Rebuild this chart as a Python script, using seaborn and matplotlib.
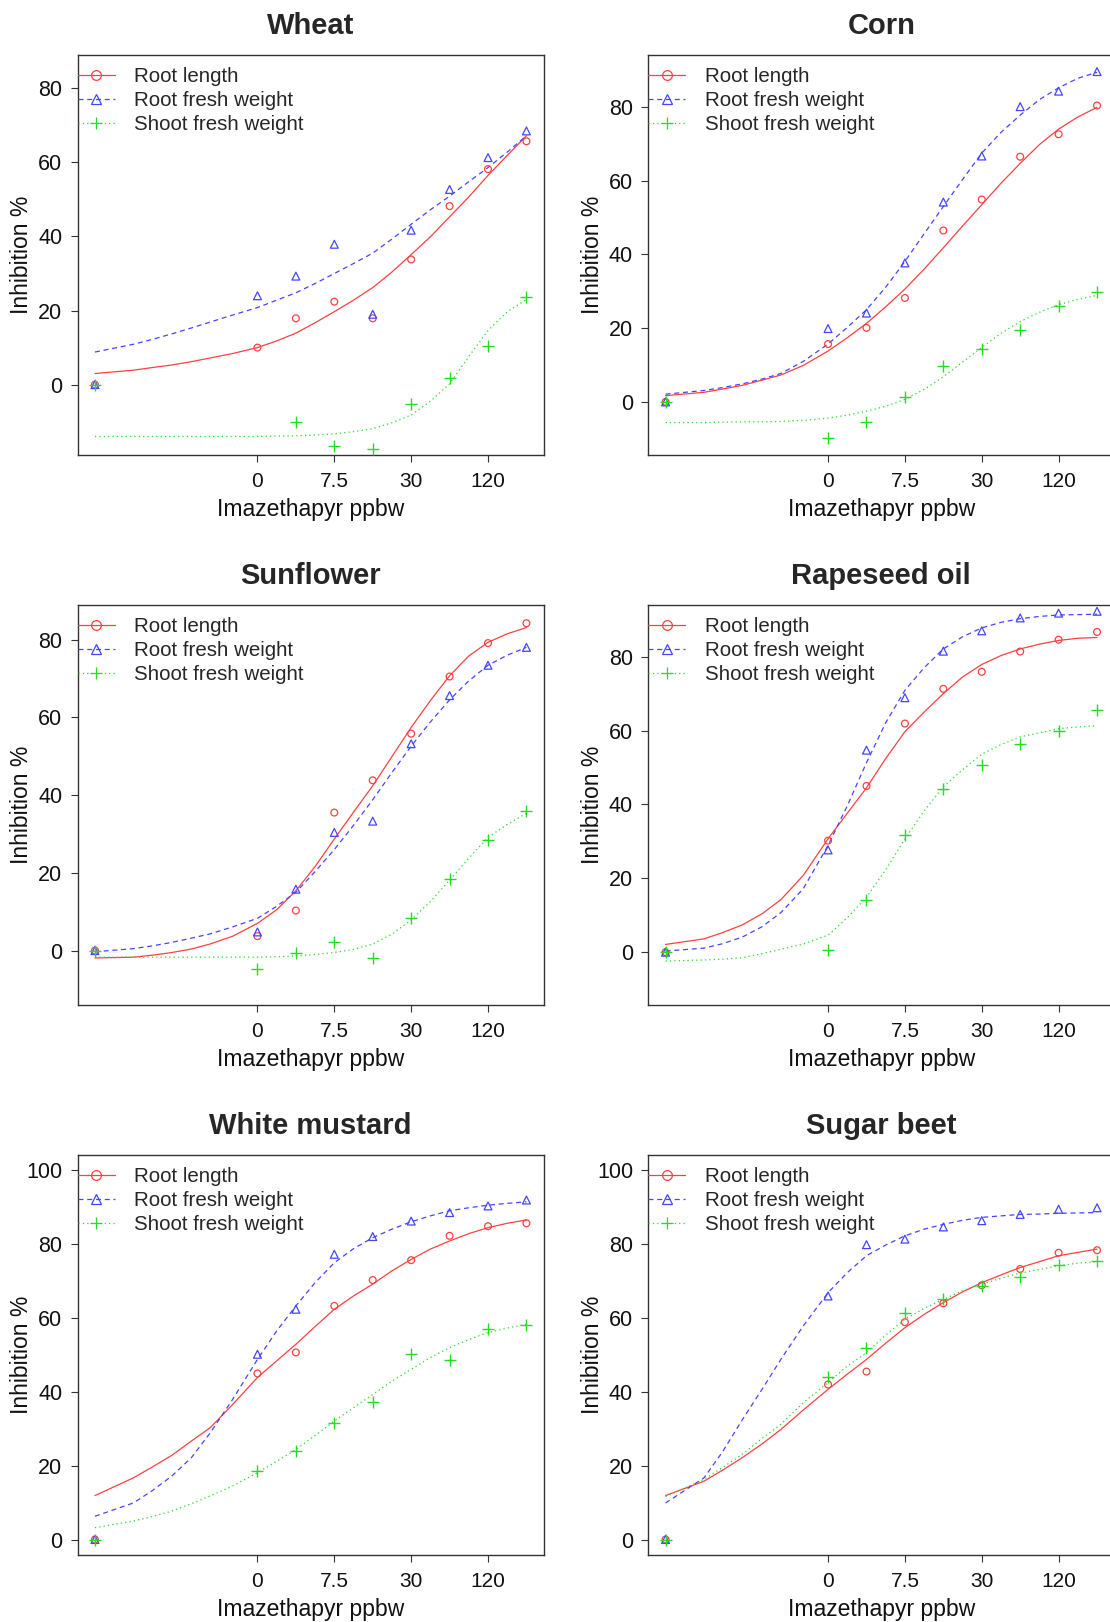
import numpy as np
import pandas as pd
import matplotlib
matplotlib.use("Agg")
import matplotlib.pyplot as plt
from matplotlib.lines import Line2D
import seaborn as sns

# ---------------------------------------------------------
# DATA
# ---------------------------------------------------------
# observed doses (control drawn at 0.1 on the log axis)
DOSES = [0.1, 1.875, 3.75, 7.5, 15, 30, 60, 120, 240]
# doses at which the fitted curves were read
FIT_DOSES = [0.1, 0.2, 0.28, 0.4, 0.57, 0.8, 1.2, 1.875, 2.65, 3.75, 5.3,
             7.5, 10.6, 15, 21.2, 30, 42.4, 60, 84.9, 120, 170, 240]

XTICKS = [1.875, 7.5, 30, 120]
XTICK_LABELS = ["0", "7.5", "30", "120"]
SERIES = ["Root length", "Root fresh weight", "Shoot fresh weight"]
CROPS = ["Wheat", "Corn", "Sunflower", "Rapeseed oil", "White mustard", "Sugar beet"]

# Wheat
WHEAT_RL = [0, 10.0, 17.9, 22.4, 17.9, 33.8, 48.2, 58.2, 65.7]
WHEAT_RFW = [0, 24.0, 29.3, 37.9, 19.0, 41.7, 52.7, 61.3, 68.5]
WHEAT_SFW = [0, np.nan, -10.0, -16.7, -17.5, -5.2, 1.8, 10.4, 23.6]
WHEAT_RL_FIT = [3.0, 3.9, 4.6, 5.3, 6.2, 7.2, 8.4, 10.0, 11.8, 13.9, 16.7,
                19.7, 22.8, 26.2, 30.4, 35.1, 39.9, 45.3, 50.7, 56.5, 61.9, 67.2]
WHEAT_RFW_FIT = [8.8, 10.9, 12.2, 13.7, 15.3, 16.9, 18.8, 20.8, 22.8, 24.8, 27.3,
                 30.0, 32.7, 35.5, 39.3, 43.3, 47.2, 50.9, 54.8, 58.6, 62.8, 67.2]
WHEAT_SFW_FIT = [-14.0, -14.0, -14.0, -14.0, -14.0, -14.0, -14.0, -14.0, -13.9, -13.8, -13.6,
                 -13.3, -12.7, -11.9, -10.3, -8.2, -4.5, 0.2, 7.6, 14.6, 19.7, 23.0]

# Corn
CORN_RL = [0, 15.7, 20.1, 28.2, 46.5, 54.9, 66.5, 72.6, 80.4]
CORN_RFW = [0, 19.9, 24.1, 37.7, 54.2, 66.7, 80.1, 84.3, 89.6]
CORN_SFW = [0, -9.8, -5.4, 1.2, 9.7, 14.3, 19.6, 26.1, 29.9]
CORN_RL_FIT = [1.7, 2.6, 3.5, 4.5, 5.9, 7.3, 9.9, 13.8, 17.4, 21.3, 25.8,
               30.6, 36.0, 41.8, 47.7, 53.5, 59.3, 64.7, 69.8, 74.0, 77.3, 79.9]
CORN_RFW_FIT = [2.1, 3.1, 3.9, 4.9, 6.2, 7.7, 11.0, 15.7, 20.2, 25.0, 31.1,
                38.1, 45.6, 53.0, 60.3, 67.5, 73.1, 77.8, 82.0, 85.2, 87.8, 89.4]
CORN_SFW_FIT = [-5.6, -5.6, -5.5, -5.4, -5.4, -5.3, -5.0, -4.4, -3.6, -2.5, -1.2,
                0.7, 3.4, 6.8, 10.8, 14.8, 18.6, 21.8, 24.3, 26.4, 27.8, 28.9]

# Sunflower
SUNF_RL = [0, 3.7, 10.3, 35.5, 43.8, 55.8, 70.5, 79.1, 84.2]
SUNF_RFW = [0, 4.8, 15.8, 30.4, 33.3, 53.2, 65.6, 73.4, 78.0]
SUNF_SFW = [0, -4.8, -0.6, 2.3, -2.0, 8.5, 18.5, 28.4, 35.8]
SUNF_RL_FIT = [-1.9, -1.7, -1.2, -0.5, 0.4, 1.7, 3.7, 7.0, 10.5, 15.4, 21.6,
               28.7, 35.6, 42.4, 49.9, 57.4, 64.3, 70.7, 75.8, 79.3, 81.5, 83.1]
SUNF_RFW_FIT = [-0.3, 0.5, 1.2, 2.1, 3.2, 4.3, 6.1, 8.3, 11.4, 15.0, 20.3,
                26.0, 32.2, 38.8, 45.8, 52.6, 58.8, 64.5, 69.4, 73.4, 76.0, 78.0]
SUNF_SFW_FIT = [-1.7, -1.7, -1.7, -1.7, -1.7, -1.7, -1.7, -1.7, -1.6, -1.4, -1.0,
                -0.5, 0.3, 1.7, 4.2, 7.9, 12.6, 18.1, 23.8, 29.1, 32.5, 35.3]

# Rapeseed oil
RAPE_RL = [0, 30.2, 45.0, 61.9, 71.3, 75.9, 81.4, 84.6, 86.7]
RAPE_RFW = [0, 27.7, 54.7, 68.9, 81.5, 87.0, 90.5, 91.8, 92.3]
RAPE_SFW = [0, 0.7, 14.2, 31.7, 44.3, 50.7, 56.5, 60.0, 65.5]
RAPE_RL_FIT = [2.1, 3.6, 5.3, 7.4, 10.4, 14.2, 20.8, 30.7, 37.6, 44.5, 52.4,
               59.7, 65.0, 70.0, 74.5, 77.9, 80.3, 82.1, 83.4, 84.4, 85.0, 85.2]
RAPE_RFW_FIT = [0.3, 1.1, 2.3, 4.1, 6.9, 10.7, 17.2, 28.9, 39.6, 51.3, 62.1,
                70.9, 77.0, 82.1, 85.4, 87.8, 89.3, 90.3, 90.9, 91.3, 91.4, 91.5]
RAPE_SFW_FIT = [-2.4, -2.1, -1.9, -1.5, -0.4, 0.8, 2.2, 4.6, 9.3, 14.9, 22.3,
                30.7, 38.2, 44.8, 49.4, 53.6, 56.2, 58.3, 59.4, 60.5, 61.0, 61.3]

# White mustard
MUST_RL = [0, 45.0, 50.7, 63.3, 70.3, 75.7, 82.3, 84.9, 85.7]
MUST_RFW = [0, 50.2, 62.4, 77.3, 82.1, 86.3, 88.6, 90.4, 92.0]
MUST_SFW = [0, 18.6, 23.9, 31.7, 37.3, 50.3, 48.6, 57.1, 58.0]
MUST_RL_FIT = [11.9, 16.7, 19.6, 22.8, 26.7, 30.3, 36.6, 43.9, 48.4, 52.9, 57.7,
               62.4, 66.0, 69.2, 72.8, 75.9, 78.7, 80.9, 82.9, 84.5, 85.7, 86.6]
MUST_RFW_FIT = [6.3, 9.9, 13.2, 17.2, 22.2, 28.9, 38.0, 48.8, 56.5, 63.3, 69.6,
                75.0, 78.8, 81.8, 84.1, 86.1, 87.7, 89.1, 89.9, 90.6, 91.1, 91.5]
MUST_SFW_FIT = [3.2, 5.0, 6.2, 7.7, 9.7, 11.8, 14.5, 18.1, 21.2, 24.4, 28.2,
                32.1, 35.7, 39.3, 42.9, 46.1, 49.3, 52.0, 54.2, 56.1, 57.3, 58.3]

# Sugar beet
BEET_RL = [0, 42.0, 45.5, 58.9, 64.0, 68.9, 73.3, 77.7, 78.4]
BEET_RFW = [0, 66.0, 79.9, 81.4, 84.7, 86.4, 88.1, 89.5, 89.9]
BEET_SFW = [0, 44.0, 52.0, 61.4, 65.3, 68.7, 71.2, 74.4, 75.4]
BEET_RL_FIT = [11.9, 15.8, 18.8, 22.2, 25.9, 29.8, 35.1, 40.7, 44.8, 48.8, 53.2,
               57.4, 61.0, 64.2, 67.1, 69.6, 71.7, 73.7, 75.3, 76.9, 77.8, 78.7]
BEET_RFW_FIT = [9.9, 16.7, 23.8, 32.5, 40.7, 48.8, 57.9, 66.9, 72.3, 76.9, 79.8,
                82.3, 84.1, 85.4, 86.5, 87.3, 87.7, 88.1, 88.2, 88.4, 88.5, 88.6]
BEET_SFW_FIT = [11.6, 16.3, 19.5, 23.1, 27.4, 31.2, 37.1, 42.5, 47.0, 50.6, 55.4,
                59.7, 62.6, 65.1, 67.4, 69.2, 70.8, 72.2, 73.2, 74.2, 74.9, 75.3]

OBS = {
    "Wheat": [WHEAT_RL, WHEAT_RFW, WHEAT_SFW],
    "Corn": [CORN_RL, CORN_RFW, CORN_SFW],
    "Sunflower": [SUNF_RL, SUNF_RFW, SUNF_SFW],
    "Rapeseed oil": [RAPE_RL, RAPE_RFW, RAPE_SFW],
    "White mustard": [MUST_RL, MUST_RFW, MUST_SFW],
    "Sugar beet": [BEET_RL, BEET_RFW, BEET_SFW],
}
FITS = {
    "Wheat": [WHEAT_RL_FIT, WHEAT_RFW_FIT, WHEAT_SFW_FIT],
    "Corn": [CORN_RL_FIT, CORN_RFW_FIT, CORN_SFW_FIT],
    "Sunflower": [SUNF_RL_FIT, SUNF_RFW_FIT, SUNF_SFW_FIT],
    "Rapeseed oil": [RAPE_RL_FIT, RAPE_RFW_FIT, RAPE_SFW_FIT],
    "White mustard": [MUST_RL_FIT, MUST_RFW_FIT, MUST_SFW_FIT],
    "Sugar beet": [BEET_RL_FIT, BEET_RFW_FIT, BEET_SFW_FIT],
}
YLIMS = {
    "Wheat": (-19, 89), "Corn": (-14.4, 94.1), "Sunflower": (-14, 88.9),
    "Rapeseed oil": (-14.3, 94), "White mustard": (-4.2, 104.2), "Sugar beet": (-4.2, 104.2),
}
YTICKS = {
    "Wheat": [0, 20, 40, 60, 80], "Corn": [0, 20, 40, 60, 80], "Sunflower": [0, 20, 40, 60, 80],
    "Rapeseed oil": [0, 20, 40, 60, 80], "White mustard": [0, 20, 40, 60, 80, 100],
    "Sugar beet": [0, 20, 40, 60, 80, 100],
}

# styles per series
COLORS = ["#FF4040", "#4545FF", "#22DD22"]
LINESTYLES = ["-", (0, (4, 3)), (0, (1, 2.5))]
MARKERS = ["o", "^", "+"]
MSIZES = [24, 32, 64]

# ---------------------------------------------------------
# PLOT
# ---------------------------------------------------------
sns.set_theme(style="ticks")
plt.rcParams["font.family"] = ["Liberation Sans", "DejaVu Sans"]

fig = plt.figure(figsize=(11.1, 16.22), dpi=100)
fig.patch.set_facecolor("white")

col_x = [77.7 / 1110, 648.3 / 1110]
row_y = [1 - 455 / 1622, 1 - 1005 / 1622, 1 - 1555 / 1622]
ax_w, ax_h = 466 / 1110, 400 / 1622

xmin, xmax = np.log2(DOSES[0]), np.log2(DOSES[-1])
pad = 0.04 * (xmax - xmin)

for i, crop in enumerate(CROPS):
    ax = fig.add_axes([col_x[i % 2], row_y[i // 2], ax_w, ax_h])
    ax.set_facecolor("white")
    for j, name in enumerate(SERIES):
        fit_df = pd.DataFrame({"dose": FIT_DOSES, "val": FITS[crop][j]})
        sns.lineplot(data=fit_df, x="dose", y="val", ax=ax, color=COLORS[j],
                     linestyle=LINESTYLES[j], linewidth=0.9, sort=False)
        obs_df = pd.DataFrame({"dose": DOSES, "val": OBS[crop][j]}).dropna()
        if MARKERS[j] == "+":
            sns.scatterplot(data=obs_df, x="dose", y="val", ax=ax, marker="+",
                            color=COLORS[j], s=MSIZES[j], linewidth=1.0, zorder=3)
        else:
            sns.scatterplot(data=obs_df, x="dose", y="val", ax=ax, marker=MARKERS[j],
                            facecolor="none", edgecolor=COLORS[j], s=MSIZES[j],
                            linewidth=0.9, zorder=3)

    ax.set_xscale("log", base=2)
    ax.set_xlim(2 ** (xmin - pad), 2 ** (xmax + pad))
    ax.set_ylim(*YLIMS[crop])
    ax.set_xticks(XTICKS)
    ax.set_xticklabels(XTICK_LABELS, fontsize=15)
    ax.xaxis.set_minor_locator(matplotlib.ticker.NullLocator())
    ax.set_yticks(YTICKS[crop])
    ax.set_yticklabels([str(t) for t in YTICKS[crop]], fontsize=15.5)
    ax.tick_params(axis="both", direction="out", length=5, width=0.8, color="#333333",
                   labelcolor="#111111", pad=6)
    ax.tick_params(axis="x", pad=7)
    for sp in ax.spines.values():
        sp.set_visible(True)
        sp.set_color("#333333")
        sp.set_linewidth(1.0)

    ax.set_title(crop, fontsize=21, fontweight="bold", pad=15)
    ax.set_xlabel("Imazethapyr ppbw", fontsize=16.5, labelpad=5, color="#111111")
    ax.set_ylabel("Inhibition %", fontsize=16.5, color="#111111")
    # fixed label line, independent of tick label width
    ax.yaxis.set_label_coords(-0.096, 0.5)

    handles = [Line2D([0], [0], color=COLORS[k], linestyle=LINESTYLES[k], linewidth=0.9,
                      marker=MARKERS[k], markersize=9 if MARKERS[k] == "+" else 7,
                      markerfacecolor="none", markeredgecolor=COLORS[k], markeredgewidth=0.9)
               for k in range(3)]
    ax.legend(handles, SERIES, loc="upper left", bbox_to_anchor=(0, 0.97),
              frameon=False, fontsize=14.8, borderpad=0, borderaxespad=0,
              handlelength=1.8, handletextpad=0.95, labelspacing=0.24)

fig.savefig("out.png", dpi=100, facecolor="white")
